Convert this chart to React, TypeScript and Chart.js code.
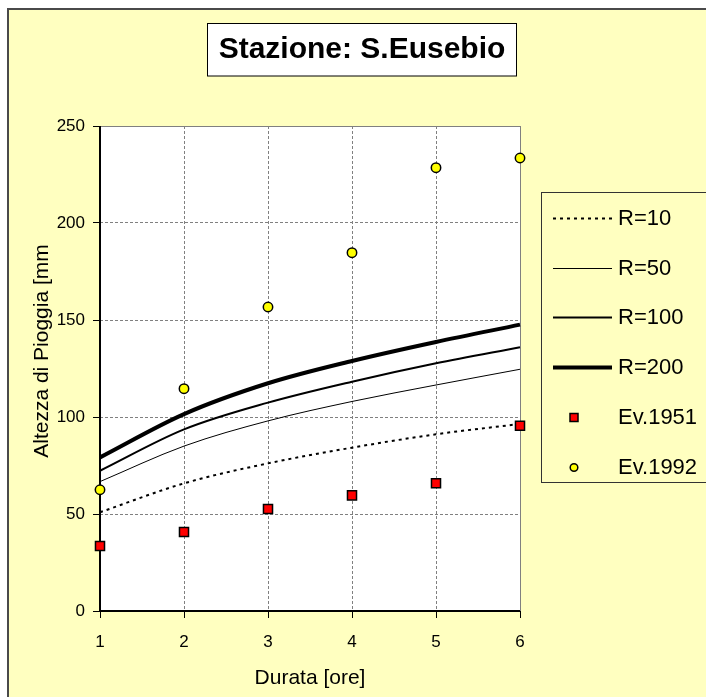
import { useEffect, useRef } from 'react';
import { Chart, registerables } from 'chart.js';

Chart.register(...registerables);

// Durations (hours) and rainfall heights (mm)
const durations = [1, 2, 3, 4, 5, 6];
const r10 = [50.9, 65.8, 76.1, 84.2, 91.1, 96.4];
const r50 = [66.7, 85.0, 98.0, 108.0, 116.5, 124.6];
const r100 = [72.3, 93.6, 107.4, 118.2, 127.7, 136.0];
const r200 = [79.2, 101.5, 117.4, 128.9, 138.7, 147.6];
const ev1951 = [33.5, 40.7, 52.6, 59.6, 65.8, 95.5];
const ev1992 = [62.5, 114.6, 156.7, 184.7, 228.5, 233.5];
const yTicks = [0, 50, 100, 150, 200, 250];

const titleText = 'Stazione: S.Eusebio';
const xTitle = 'Durata [ore]';
const yTitle = 'Altezza di Pioggia [mm';

const FONT = '"Liberation Sans", Arial, Helvetica, sans-serif';

const toPoints = (ys: number[]) => durations.map((x, i) => ({ x, y: ys[i] }));

// White plot area behind the grid
const plotBackground = {
  id: 'plotBackground',
  beforeDraw(chart: any) {
    const { ctx, chartArea: a } = chart;
    ctx.save();
    ctx.fillStyle = '#FFFFFF';
    ctx.fillRect(a.left, a.top, a.right - a.left, a.bottom - a.top);
    ctx.restore();
  },
};

// Plot frame: gray top/right edges, solid black axes, rotated y title
const plotEdges = {
  id: 'plotEdges',
  beforeDatasetsDraw(chart: any) {
    const { ctx, chartArea: a } = chart;
    ctx.save();
    ctx.strokeStyle = '#808080';
    ctx.lineWidth = 1;
    ctx.beginPath();
    ctx.moveTo(a.left, a.top + 0.5);
    ctx.lineTo(a.right + 0.5, a.top + 0.5);
    ctx.lineTo(a.right + 0.5, a.bottom);
    ctx.stroke();

    ctx.strokeStyle = '#000000';
    ctx.lineWidth = 2;
    ctx.beginPath();
    ctx.moveTo(a.left, a.top);
    ctx.lineTo(a.left, a.bottom);
    ctx.lineTo(a.right, a.bottom);
    ctx.stroke();

    ctx.fillStyle = '#000000';
    ctx.font = `21px ${FONT}`;
    ctx.textAlign = 'center';
    ctx.textBaseline = 'middle';
    ctx.translate(42, 351);
    ctx.rotate(-Math.PI / 2);
    ctx.fillText(yTitle, 0, 0);
    ctx.restore();
  },
};

// Boxed title and boxed legend
const boxes = {
  id: 'boxes',
  afterDraw(chart: any) {
    const { ctx } = chart;
    ctx.save();

    // title box
    ctx.fillStyle = '#FFFFFF';
    ctx.fillRect(207.5, 23.5, 309, 52.5);
    ctx.strokeStyle = '#000000';
    ctx.lineWidth = 1;
    ctx.strokeRect(207.5, 23.5, 309, 52.5);
    ctx.fillStyle = '#000000';
    ctx.font = `bold 30px ${FONT}`;
    ctx.textAlign = 'center';
    ctx.textBaseline = 'middle';
    ctx.fillText(titleText, 362, 50);

    // legend box
    ctx.strokeStyle = '#333333';
    ctx.lineWidth = 1;
    ctx.strokeRect(541.5, 192.5, 220, 290);

    const datasets = chart.data.datasets;
    ctx.font = `22px ${FONT}`;
    ctx.textAlign = 'left';
    ctx.textBaseline = 'middle';
    datasets.forEach((ds: any, i: number) => {
      const y = Math.round(218 + i * 49.7) + 0.5;
      if (ds.showLine) {
        ctx.save();
        ctx.strokeStyle = ds.borderColor;
        ctx.lineWidth = ds.borderWidth;
        ctx.setLineDash(ds.borderDash || []);
        ctx.beginPath();
        ctx.moveTo(553, y);
        ctx.lineTo(612, y);
        ctx.stroke();
        ctx.restore();
      } else {
        ctx.save();
        ctx.fillStyle = ds.pointBackgroundColor;
        ctx.strokeStyle = ds.pointBorderColor;
        ctx.lineWidth = 1.5;
        ctx.beginPath();
        if (ds.pointStyle === 'rect') {
          ctx.rect(570, y - 4, 8, 8);
        } else {
          ctx.arc(574, y, 3.8, 0, Math.PI * 2);
        }
        ctx.fill();
        ctx.stroke();
        ctx.restore();
      }
      ctx.fillStyle = '#000000';
      ctx.fillText(ds.label, 618, y);
    });
    ctx.restore();
  },
};

const curve = (label: string, ys: number[], width: number, dash: number[]) => ({
  label,
  data: toPoints(ys),
  showLine: true,
  borderColor: '#000000',
  borderWidth: width,
  borderDash: dash,
  pointRadius: 0,
  pointHoverRadius: 0,
  cubicInterpolationMode: 'monotone' as const,
  fill: false,
  clip: false as const,
  order: 1,
});

const events = (label: string, ys: number[], style: string, color: string, radius: number) => ({
  label,
  data: toPoints(ys),
  showLine: false,
  pointStyle: style,
  pointRadius: radius,
  pointHoverRadius: radius,
  pointBackgroundColor: color,
  pointBorderColor: '#000000',
  pointBorderWidth: 1.5,
  clip: false as const,
  order: 0,
});

export default function App() {
  const canvasRef = useRef<HTMLCanvasElement | null>(null);

  useEffect(() => {
    const canvas = canvasRef.current;
    if (!canvas) return;

    const axisCommon = {
      type: 'linear' as const,
      grid: {
        color: '#808080',
        lineWidth: 1,
        tickColor: '#000000',
        tickLength: 7,
        tickWidth: 1,
      },
      border: { display: false, dash: [3, 2] },
    };

    const chart = new Chart(canvas, {
      type: 'scatter',
      data: {
        datasets: [
          curve('R=10', r10, 2, [3, 4]),
          curve('R=50', r50, 1, []),
          curve('R=100', r100, 2, []),
          curve('R=200', r200, 4, []),
          events('Ev.1951', ev1951, 'rect', '#FF0000', 6.4),
          events('Ev.1992', ev1992, 'circle', '#FFFF00', 4.7),
        ] as any,
      },
      options: {
        responsive: false,
        animation: false,
        events: [],
        layout: { padding: { top: 126, right: 186, left: 0, bottom: 0 } },
        plugins: {
          legend: { display: false },
          title: { display: false },
          tooltip: { enabled: false },
        },
        scales: {
          x: {
            ...axisCommon,
            min: 1,
            max: 6,
            afterBuildTicks: (s: any) => {
              s.ticks = durations.map((v) => ({ value: v }));
            },
            afterFit: (s: any) => {
              s.height = 86;
            },
            ticks: {
              color: '#000000',
              font: { family: FONT, size: 17 },
              padding: 14,
              maxRotation: 0,
            },
            title: {
              display: true,
              text: xTitle,
              color: '#000000',
              font: { family: FONT, size: 21 },
              padding: { top: 0, bottom: 6 },
            },
          },
          y: {
            ...axisCommon,
            min: 0,
            max: 250,
            afterBuildTicks: (s: any) => {
              s.ticks = yTicks.map((v) => ({ value: v }));
            },
            afterFit: (s: any) => {
              s.width = 100;
            },
            ticks: {
              color: '#000000',
              font: { family: FONT, size: 17 },
              padding: 8,
            },
            title: { display: false, text: yTitle },
          },
        },
      },
      plugins: [plotBackground, plotEdges, boxes],
    });

    return () => chart.destroy();
  }, []);

  return (
    <div
      style={{
        position: 'fixed',
        left: 0,
        top: 0,
        width: 706,
        height: 697,
        overflow: 'hidden',
        background: '#FFFFFF',
      }}
    >
      <div
        style={{
          position: 'absolute',
          left: 7,
          top: 8,
          width: 740,
          height: 740,
          border: '2px solid #4a4a4a',
          background: '#FFFFC0',
        }}
      />
      <canvas
        ref={canvasRef}
        width={706}
        height={697}
        style={{ position: 'absolute', left: 0, top: 0, width: 706, height: 697 }}
      />
    </div>
  );
}
